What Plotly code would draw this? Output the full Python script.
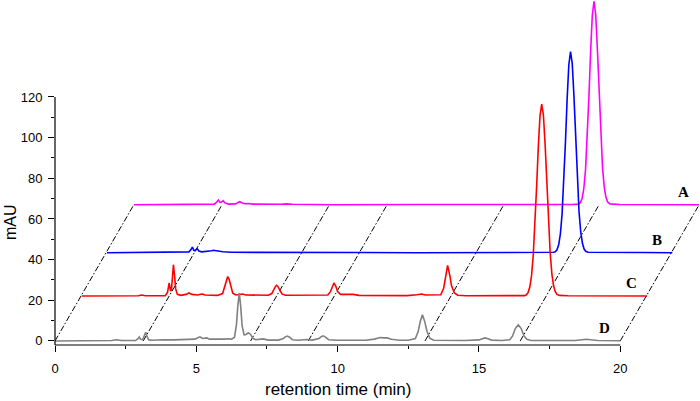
import plotly.graph_objects as go

# ---- data (local retention time in min, signal in mAU) ----
D_t = [0.00, 1.00, 2.00, 2.18, 2.35, 2.85, 2.93, 2.98, 3.03, 3.10, 3.16, 3.21, 3.26, 3.32, 3.45, 3.80, 4.20, 4.60,
       4.95, 5.05, 5.13, 5.22, 5.30, 5.37, 5.46, 5.70, 6.00, 6.12, 6.25, 6.35, 6.42, 6.47, 6.52, 6.57, 6.62, 6.69,
       6.76, 6.84, 6.92, 7.00, 7.10, 7.36, 7.55, 7.90, 8.08, 8.15, 8.22, 8.30, 8.40, 8.60, 8.90, 9.10, 9.34, 9.42,
       9.49, 9.57, 9.68, 10.0, 10.5, 11.0, 11.3, 11.5, 11.62, 11.75, 11.9, 12.2, 12.5, 12.75, 12.85, 12.92, 13.0,
       13.08, 13.16, 13.26, 13.4, 14.0, 14.5, 15.0, 15.1, 15.21, 15.32, 15.45, 15.8, 16.09, 16.19, 16.29, 16.39,
       16.49, 16.59, 16.69, 16.85, 17.5, 18.4, 18.65, 18.8, 18.95, 19.2, 20.0]
D_v = [0.0, 0.1, 0.2, 0.6, 0.2, 0.2, 1.0, 2.0, 0.8, 0.6, 2.5, 4.3, 2.0, 0.5, 0.3, 0.6, 0.5, 0.8,
       0.9, 1.6, 2.0, 1.2, 1.4, 1.5, 0.9, 0.8, 0.9, 1.1, 0.9, 1.8, 8.0, 17.5, 23.6, 17.0, 7.5, 3.0,
       3.2, 4.0, 3.2, 1.3, 0.6, 1.0, 0.4, 0.4, 1.2, 2.0, 2.4, 1.8, 0.6, 0.3, 0.7, 0.4, 1.2, 2.1,
       2.5, 1.9, 0.6, 0.3, 0.2, 0.3, 0.9, 1.7, 1.5, 1.5, 0.8, 0.3, 0.3, 1.2, 4.6, 9.4, 12.9,
       9.6, 4.8, 1.4, 0.3, 0.2, 0.2, 0.5, 1.1, 1.5, 1.1, 0.4, 0.2, 0.6, 2.5, 6.2, 7.9,
       6.2, 2.6, 0.8, 0.2, 0.1, 0.2, 0.6, 0.8, 0.6, 0.2, 0.1]

C_t = [0.00, 1.00, 2.00, 2.12, 2.25, 2.95, 3.03, 3.09, 3.14, 3.17, 3.21, 3.24, 3.28, 3.32, 3.38, 3.50, 3.68, 3.79,
       3.90, 4.10, 4.20, 4.27, 4.36, 4.80, 4.98, 5.06, 5.11, 5.16, 5.21, 5.26, 5.34, 5.45, 5.60, 5.69, 5.80, 6.60,
       6.72, 6.80, 6.85, 6.89, 6.94, 7.00, 7.08, 7.20, 8.00, 8.70, 8.79, 8.85, 8.92, 8.99, 9.05, 9.15, 9.35, 9.48,
       9.60, 9.80, 10.5, 11.0, 11.5, 11.85, 12.02, 12.15, 12.70, 12.80, 12.87, 12.94, 13.01, 13.08, 13.18, 13.30,
       13.6, 14.5, 15.5, 15.67, 15.73, 15.79, 15.85, 15.91, 15.97, 16.03, 16.09, 16.15, 16.21, 16.27, 16.33, 16.39,
       16.45, 16.51, 16.57, 16.63, 16.69, 16.75, 16.81, 16.90, 17.2, 20.0]
C_v = [0.0, 0.1, 0.1, 0.5, 0.1, 0.2, 1.8, 6.4, 2.5, 3.0, 10.5, 15.4, 10.0, 3.5, 0.8, 0.3, 0.8, 1.5,
       0.8, 0.5, 0.9, 1.0, 0.5, 0.3, 1.2, 5.0, 8.2, 9.6, 8.2, 5.0, 1.4, 0.5, 0.7, 1.0, 0.5, 0.4,
       1.2, 3.6, 4.7, 5.2, 4.6, 3.0, 1.0, 0.4, 0.3, 0.5, 2.0, 4.4, 6.4, 4.6, 2.2, 0.8, 0.8, 1.0,
       0.8, 0.3, 0.2, 0.3, 0.2, 0.6, 1.0, 0.5, 0.6, 3.8, 9.8, 15.0, 10.8, 5.0, 1.5, 0.4,
       0.1, 0.2, 0.2, 0.2, 0.6, 1.8, 4.5, 10.0, 19.9, 34.8, 53.9, 73.6, 88.7, 94.4, 89.0, 74.5,
       55.0, 36.0, 21.0, 10.8, 5.0, 2.1, 0.8, 0.3, 0.1, 0.0]

B_t = [0.0, 1.5, 2.4, 2.90, 2.97, 3.02, 3.07, 3.12, 3.19, 3.25, 3.35, 3.60, 3.70, 3.76, 3.84, 3.95, 4.10, 4.40,
       5.5, 7.0, 9.0, 11.0, 13.0, 15.0, 15.70, 15.80, 15.86, 15.92, 15.98, 16.04, 16.10, 16.16, 16.22, 16.28,
       16.34, 16.40, 16.46, 16.52, 16.58, 16.64, 16.70, 16.76, 16.82, 16.88, 16.94, 17.02, 17.5, 19.0, 20.0]
B_v = [0.0, 0.1, 0.2, 0.4, 1.5, 2.8, 1.2, 1.0, 2.0, 0.8, 0.4, 0.6, 1.0, 1.2, 1.0, 0.6, 0.5, 0.2,
       0.1, 0.0, 0.1, 0.0, 0.1, 0.0, 0.1, 0.2, 0.5, 1.4, 3.9, 9.2, 18.9, 34.3, 54.6, 75.9,
       92.6, 98.9, 93.0, 77.0, 56.0, 36.0, 20.2, 10.2, 4.6, 1.8, 0.7, 0.2, 0.1, 0.1, 0.0]

A_t = [0.0, 2.0, 2.85, 2.93, 2.99, 3.05, 3.10, 3.16, 3.22, 3.35, 3.60, 3.70, 3.75, 3.82, 3.92, 4.05, 4.2, 5.2,
       5.41, 5.6, 7.0, 10.0, 13.0, 15.5, 15.74, 15.80, 15.86, 15.92, 15.98, 16.04, 16.10, 16.16, 16.22, 16.28,
       16.34, 16.40, 16.46, 16.52, 16.58, 16.64, 16.70, 16.76, 16.84, 17.2, 20.0]
A_v = [0.0, 0.1, 0.3, 1.3, 2.3, 1.2, 1.3, 2.0, 0.9, 0.3, 0.4, 1.2, 1.5, 1.0, 0.5, 0.6, 0.3, 0.2,
       0.4, 0.2, 0.0, 0.1, 0.0, 0.1, 0.3, 1.1, 3.2, 8.0, 17.2, 32.5, 53.1, 75.5, 93.2, 100.0,
       93.5, 76.5, 54.5, 34.0, 18.5, 9.0, 3.8, 1.4, 0.4, 0.1, 0.0]

series_names = ["A", "B", "C", "D"]
series_colors = ["#ff00ff", "#0000ff", "#ff0000", "#808080"]
series_t = [A_t, B_t, C_t, D_t]
series_v = [A_v, B_v, C_v, D_v]
# waterfall offsets (time shift in min, signal shift in mAU)
x_offsets = [2.79, 1.84, 0.95, 0.0]
y_offsets = [67.0, 43.4, 22.1, 0.0]

# guide lines (local times joining front trace D to back trace A)
guide_times = [0.0, 3.12, 6.92, 8.96, 13.09, 16.46, 20.0]

x_ticks = [0, 5, 10, 15, 20]
x_minor = [2.5, 7.5, 12.5, 17.5]
y_ticks = [0, 20, 40, 60, 80, 100, 120]
y_minor = [10, 30, 50, 70, 90, 110]

fig = go.Figure()

for g in guide_times:
    fig.add_trace(go.Scatter(
        x=[g + x_offsets[3], g + x_offsets[0]], y=[y_offsets[3], y_offsets[0]],
        mode="lines", line=dict(color="black", width=1, dash="6px,2px,1.5px,2px"),
        hoverinfo="skip", showlegend=False))

for name, col, ts, vs, dx, dy in zip(series_names, series_colors, series_t, series_v, x_offsets, y_offsets):
    fig.add_trace(go.Scatter(
        x=[t + dx for t in ts], y=[v + dy for v in vs], mode="lines",
        line=dict(color=col, width=1.6), name=name, showlegend=False, hoverinfo="skip"))
    fig.add_annotation(x=19.45 + dx, y=6.2 + dy, text="<b>" + name + "</b>", showarrow=False,
                       font=dict(family="Liberation Serif", size=15, color="black"),
                       xanchor="center", yanchor="middle")

fig.add_annotation(x=(338 - 55) / 645, y=(345 - 389) / 345, xref="paper", yref="paper",
                   text="retention time (min)", showarrow=False,
                   font=dict(family="Liberation Sans", size=17, color="black"),
                   xanchor="center", yanchor="middle")
fig.add_annotation(x=(10 - 55) / 645, y=(345 - 222) / 345, xref="paper", yref="paper",
                   text="mAU", textangle=-90, showarrow=False,
                   font=dict(family="Liberation Sans", size=16, color="black"),
                   xanchor="center", yanchor="middle")

# axis lines (only spanning the labelled range)
fig.add_shape(type="line", xref="x", yref="paper", x0=0, x1=20, y0=0, y1=0,
              line=dict(color="black", width=1.2))
fig.add_shape(type="line", xref="paper", yref="y", x0=0, x1=0, y0=-2, y1=120,
              line=dict(color="black", width=1.2))

fig.update_layout(
    width=700, height=401,
    margin=dict(l=55, r=0, t=0, b=56),
    paper_bgcolor="white", plot_bgcolor="white",
    showlegend=False,
    xaxis=dict(range=[0, 22.82], showgrid=False, zeroline=False, showline=False,
               tickmode="array", tickvals=x_ticks, ticks="outside", ticklen=6, tickwidth=1,
               tickcolor="black", tickfont=dict(family="Liberation Sans", size=13, color="black"),
               ticklabelstandoff=5,
               minor=dict(tickvals=x_minor, ticks="outside", ticklen=3, tickwidth=1, tickcolor="black")),
    yaxis=dict(range=[-2, 167.7], showgrid=False, zeroline=False, showline=False,
               tickmode="array", tickvals=y_ticks, ticks="outside", ticklen=6, tickwidth=1,
               tickcolor="black", tickfont=dict(family="Liberation Sans", size=13, color="black"),
               ticklabelstandoff=3,
               minor=dict(tickvals=y_minor, ticks="outside", ticklen=3, tickwidth=1, tickcolor="black")),
)

fig.write_html("out.html", config={"displayModeBar": False},
               post_script="document.body.style.margin='0';")
